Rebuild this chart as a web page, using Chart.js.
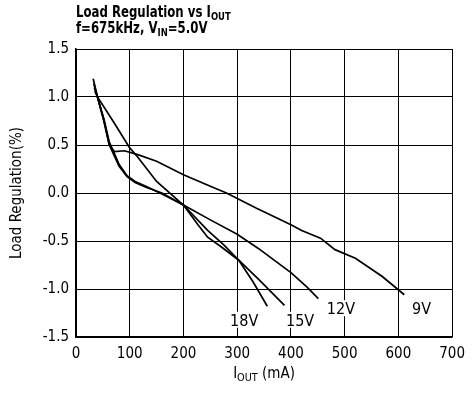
<!DOCTYPE html>
<html>
<head>
<meta charset="utf-8">
<script src="https://cdn.jsdelivr.net/npm/chart.js@4/dist/chart.umd.min.js"></script>
<style>
  html, body { margin: 0; padding: 0; background: white; }
  #wrap { width: 473px; height: 394px; }
</style>
</head>
<body>
<div id="wrap"><canvas id="chart" width="473" height="394"></canvas></div>
<script>
// values (IOUT in mA, load regulation in %)
const iout9 = [33, 40, 52, 62, 72, 90, 115, 150, 200, 250, 280, 336, 370, 400, 420, 455, 482, 520, 570, 611]
const reg9 = [1.14, 1.0, 0.75, 0.5, 0.43, 0.44, 0.40, 0.33, 0.19, 0.07, 0.0, -0.16, -0.25, -0.33, -0.39, -0.47, -0.59, -0.68, -0.87, -1.06]

const iout12 = [34, 40, 52, 62, 80, 95, 110, 130, 160, 200, 250, 300, 340, 400, 430, 451]
const reg12 = [1.10, 1.0, 0.75, 0.5, 0.28, 0.17, 0.11, 0.06, 0.0, -0.125, -0.28, -0.43, -0.58, -0.83, -0.98, -1.10]

const iout15 = [35, 40, 52, 62, 80, 95, 110, 130, 160, 200, 227, 245, 270, 303, 340, 388]
const reg15 = [1.06, 1.0, 0.77, 0.53, 0.30, 0.18, 0.12, 0.07, -0.01, -0.125, -0.33, -0.46, -0.56, -0.70, -0.90, -1.17]

const iout18 = [32, 40, 70, 100, 114, 150, 200, 245, 275, 303, 330, 356]
const reg18 = [1.19, 1.0, 0.74, 0.47, 0.38, 0.12, -0.125, -0.39, -0.54, -0.70, -0.93, -1.18]

const curveLabels = ['18V', '15V', '12V', '9V']
const labelX = [313, 417, 493, 643]
const labelY = [-1.32, -1.32, -1.20, -1.20]

const xTicks = [0, 100, 200, 300, 400, 500, 600, 700]
const yTicks = [-1.5, -1.0, -0.5, 0.0, 0.5, 1.0, 1.5]

const FONT = "'Liberation Sans Narrow', 'DejaVu Sans Condensed', 'Roboto Condensed', Roboto, sans-serif"

function pts(xs, ys) {
  return xs.map((x, i) => ({ x: x, y: ys[i] }))
}

// draws text squeezed horizontally, with optional subscript runs
function drawRuns(ctx, runs, x, y, size, bold, align, squeeze) {
  let total = 0
  runs.forEach(r => {
    ctx.font = (bold ? 'bold ' : '') + (r.sub ? size * 0.72 : size) + 'px ' + FONT
    r.w = ctx.measureText(r.t).width * squeeze
    total += r.w
  })
  let cx = align === 'center' ? x - total / 2 : x
  runs.forEach(r => {
    ctx.save()
    ctx.font = (bold ? 'bold ' : '') + (r.sub ? size * 0.72 : size) + 'px ' + FONT
    ctx.translate(cx, y + (r.sub ? size * 0.22 : 0))
    ctx.scale(squeeze, 1)
    ctx.textAlign = 'left'
    ctx.textBaseline = 'alphabetic'
    ctx.fillStyle = 'black'
    ctx.fillText(r.t, 0, 0)
    ctx.restore()
    cx += r.w
  })
}

const textPlugin = {
  id: 'texts',
  afterDraw(chart) {
    const ctx = chart.ctx
    const xs = chart.scales.x
    const ys = chart.scales.y
    const area = chart.chartArea

    drawRuns(ctx, [{ t: 'Load Regulation vs I' }, { t: 'OUT', sub: true }], area.left, 17, 15, true, 'left', 0.87)
    drawRuns(ctx, [{ t: 'f=675kHz, V' }, { t: 'IN', sub: true }, { t: '=5.0V' }], area.left, 33, 15, true, 'left', 0.87)

    drawRuns(ctx, [{ t: 'I' }, { t: 'OUT', sub: true }, { t: ' (mA)' }], (area.left + area.right) / 2, 378, 15, false, 'center', 1)

    ctx.save()
    ctx.translate(21, (area.top + area.bottom) / 2)
    ctx.rotate(-Math.PI / 2)
    drawRuns(ctx, [{ t: 'Load Regulation(%)' }], 0, 0, 15, false, 'center', 1)
    ctx.restore()

    curveLabels.forEach((lab, i) => {
      const px = xs.getPixelForValue(labelX[i])
      const py = ys.getPixelForValue(labelY[i])
      ctx.fillStyle = 'white'
      ctx.fillRect(px - 14, py - 8, 28, 16)
      drawRuns(ctx, [{ t: lab }], px, py + 6, 16, false, 'center', 1)
    })
  }
}

const lineStyle = { borderColor: 'black', borderWidth: 1.7, pointRadius: 0, showLine: true, fill: false, tension: 0 }

new Chart(document.getElementById('chart'), {
  type: 'scatter',
  data: {
    datasets: [
      { label: '9V', data: pts(iout9, reg9), ...lineStyle },
      { label: '12V', data: pts(iout12, reg12), ...lineStyle },
      { label: '15V', data: pts(iout15, reg15), ...lineStyle },
      { label: '18V', data: pts(iout18, reg18), ...lineStyle }
    ]
  },
  options: {
    responsive: false,
    animation: false,
    layout: { padding: { left: 0, top: 49, right: 14, bottom: 0 } },
    plugins: { legend: { display: false }, tooltip: { enabled: false } },
    scales: {
      x: {
        type: 'linear',
        min: 0,
        max: 700,
        afterBuildTicks: s => { s.ticks = xTicks.map(v => ({ value: v })) },
        afterFit: s => { s.height = 57 },
        grid: { color: 'black', lineWidth: 1, drawTicks: false },
        border: { color: 'black', width: 1.5 },
        ticks: { color: 'black', padding: 8, maxRotation: 0, font: { family: FONT, size: 15 } }
      },
      y: {
        min: -1.5,
        max: 1.5,
        afterBuildTicks: s => { s.ticks = yTicks.map(v => ({ value: v })) },
        afterFit: s => { s.width = 76 },
        grid: { color: 'black', lineWidth: 1, drawTicks: false },
        border: { color: 'black', width: 1.5 },
        ticks: { color: 'black', padding: 7, font: { family: FONT, size: 15 }, callback: v => v.toFixed(1) }
      }
    }
  },
  plugins: [textPlugin]
})
</script>
</body>
</html>
